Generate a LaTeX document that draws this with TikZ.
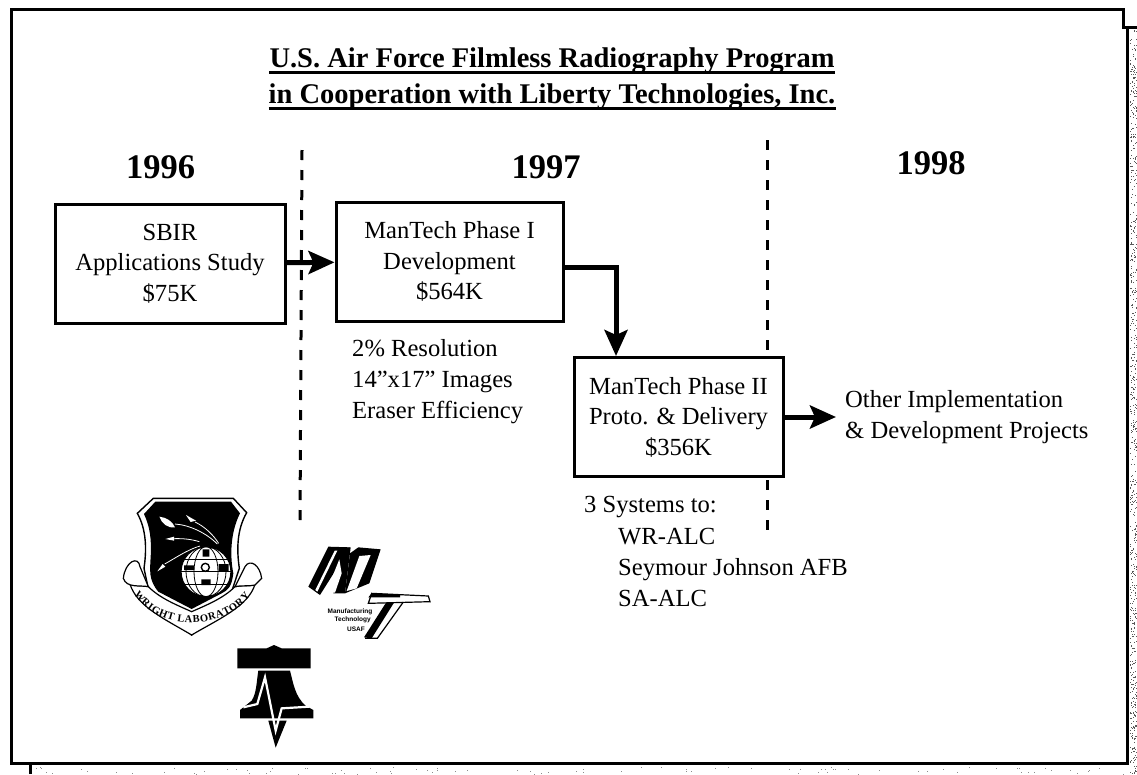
\documentclass[tikz,border=0pt]{standalone}
\usepackage{fontspec}
\setmainfont{Liberation Serif}
\newfontfamily\logofont{Liberation Sans}
\usetikzlibrary{arrows.meta,decorations.text}
\tikzset{
  phasebox/.style={draw,line width=3pt,fill=white,minimum width=#1,minimum height=119pt,align=center,font=\fontsize{24.6}{30.6}\selectfont},
  bodytext/.style={inner sep=0pt,align=left,font=\fontsize{24.6}{31}\selectfont},
  yeartext/.style={inner sep=0pt,anchor=base,font=\fontsize{34.5}{36}\selectfont\bfseries},
  titletext/.style={inner sep=0pt,anchor=base,font=\fontsize{28.5}{32}\selectfont\bfseries},
  titlerule/.style={line width=3pt},
  flowarrow/.style={line width=5pt,-{Stealth[length=26pt,width=23pt,inset=5pt]}},
  yeardash/.style={line width=3pt,dash pattern=on 10pt off 10pt},
  gridline/.style={line width=.8pt},
  trail/.style={white,line width=.8pt},
  mtlabel/.style={inner sep=0pt,font=\fontsize{6.5}{7}\selectfont\logofont\bfseries}
}
\begin{document}
\begin{tikzpicture}[x=1pt,y=-1pt]
    \useasboundingbox (0,0) rectangle (1137,774);
    % page edge
    \pgfmathsetseed{17}
    \foreach \i in {1,...,700} {
        \pgfmathsetmacro\dotx{1129.5+rnd*7}
        \pgfmathsetmacro\doty{29+rnd*745}
        \fill[black!65] (\dotx,\doty) rectangle +(1,1);
    }
    \foreach \i in {1,...,90} {
        \pgfmathsetmacro\dotx{35+rnd*1090}
        \pgfmathsetmacro\doty{767+rnd*7}
        \fill[black!45] (\dotx,\doty) rectangle +(1,1);
    }
    \draw[line width=3pt] (1137,27) -- (1123,27) -- (1123,9) -- (11,9) -- (11,763) -- (1127,763) -- (1127,27);
    \draw[line width=3pt] (30,774) -- (30,765);

    % title
    \node[titletext] (titleone) at (552,67) {U.S. Air Force Filmless Radiography Program};
    \node[titletext] (titletwo) at (552,103) {in Cooperation with Liberty Technologies, Inc.};
    \draw[titlerule] ([yshift=-5pt]titleone.base west) -- ([yshift=-5pt]titleone.base east);
    \draw[titlerule] ([yshift=-5pt]titletwo.base west) -- ([yshift=-5pt]titletwo.base east);

    % years
    \node[yeartext] (yearone) at (160.5,178) {1996};
    \node[yeartext] (yeartwo) at (546,178) {1997};
    \node[yeartext] (yearthree) at (931,174) {1998};

    % year borders
    \coordinate (dashonetop) at (302,150);
    \coordinate (dashonebot) at (300,523);
    \coordinate (dashtwotop) at (767,140);
    \coordinate (dashtwobot) at (767,532);
    \draw[yeardash] (dashonetop) -- (dashonebot);
    \draw[yeardash] (dashtwotop) -- (dashtwobot);

    % boxes
    \node[phasebox=230pt] (sbir) at (170,263.5) {SBIR\\Applications Study\\\$75K};
    \node[phasebox=227pt] (phaseone) at (449.5,261.5) {ManTech Phase I\\Development\\\$564K};
    \node[phasebox=209pt] (phasetwo) at (678.5,417) {ManTech Phase II\\Proto. \& Delivery\\\$356K};
    \node[bodytext,anchor=west,inner xsep=9pt] (other) at (836,417) {Other Implementation\\\& Development Projects};

    % arrows
    \coordinate (bend) at (616,267);
    \draw[flowarrow] (sbir) -- (phaseone);
    \draw[flowarrow] (phaseone.east |- bend) -- (bend) -- (bend |- phasetwo.north);
    \draw[flowarrow] (phasetwo.east) -- (other.west);

    % notes
    \node[bodytext,anchor=north west] (results) at (352,339) {2\% Resolution\\14''x17'' Images\\Eraser Efficiency};
    \node[bodytext,anchor=base west] (systems) at (584,512) {3 Systems to:};
    \node[bodytext,anchor=base west] (wralc) at (618,544) {WR-ALC};
    \node[bodytext,anchor=base west] (seymour) at (618,575) {Seymour Johnson AFB};
    \node[bodytext,anchor=base west] (saalc) at (618,606) {SA-ALC};

    % shield
    \begin{scope}[shift={(120,490)},scale=1/3]
        \draw[line width=1.4pt,fill=white] (100,25) -- (340,25) -- (380,68) .. controls (350,120) and (350,180) .. (358,235) -- (330,320) -- (215,435) -- (90,320) -- (72,235) .. controls (80,180) and (80,120) .. (52,70) -- cycle;
        \fill (106,35) -- (333,35) -- (360,70) .. controls (330,130) and (330,200) .. (340,250) .. controls (335,290) and (325,300) .. (305,310) -- (215,357) -- (115,305) .. controls (85,270) and (90,240) .. (92,200) .. controls (95,150) and (90,110) .. (72,72) -- cycle;
        % missiles and trails
        \fill[white] (118,80) .. controls (140,82) and (158,95) .. (165,112) .. controls (142,115) and (125,100) .. (118,80) -- cycle;
        \fill[white] (198,75) -- (228,92) -- (212,96) -- cycle;
        \fill[white] (136,147) -- (162,140) -- (162,152) -- cycle;
        \fill[white] (112,244) -- (128,222) -- (136,230) -- cycle;
        \draw[trail] (165,102) .. controls (210,105) and (260,130) .. (292,162);
        \draw[trail] (225,96) .. controls (255,110) and (280,135) .. (296,160);
        \draw[trail] (162,146) .. controls (190,145) and (215,148) .. (238,155);
        \draw[trail] (134,222) .. controls (165,205) and (200,180) .. (240,168);
        % globe
        \draw[line width=1.2pt,fill=white] (258,245) circle (75);
        \draw[gridline] (258,245) ellipse (36 and 75) (258,245) ellipse (60 and 75);
        \draw[gridline] (193,208) -- (323,208) (183,245) -- (333,245) (193,282) -- (323,282);
        \fill (248,178) rectangle (268,200) (244,268) rectangle (272,285);
        \fill (192,226) rectangle (222,240) (296,222) rectangle (326,244);
        \draw[line width=1.4pt,fill=white] (256,232) circle (12);
        % ribbon
        \draw[line width=1.2pt,fill=white] (30,282) .. controls (50,290) and (70,285) .. (85,290) .. controls (120,325) and (170,345) .. (215,365) .. controls (260,345) and (310,325) .. (345,290) .. controls (365,285) and (385,290) .. (405,283) .. controls (385,350) and (290,390) .. (215,435) .. controls (140,390) and (50,350) .. (30,282) -- cycle;
        \draw[line width=1.2pt,fill=white] (10,265) .. controls (15,215) and (55,195) .. (60,230) -- (85,290) .. controls (60,285) and (20,295) .. (10,265) -- cycle;
        \draw[line width=1.2pt,fill=white] (375,230) .. controls (390,205) and (420,225) .. (425,265) -- (405,285) .. controls (385,290) and (365,285) .. (345,290) -- cycle;
        \path[decorate,decoration={text along path,text align={fit to path},text={|\fontsize{10.5}{11}\selectfont\bfseries|WRIGHT LABORATORY}}] (42,312) .. controls (110,420) and (300,430) .. (390,318);
    \end{scope}

    % MT mark
    \begin{scope}[shift={(300,540)},scale=1/3]
        \fill (85,20) -- (150,22) -- (60,165) -- (25,140) -- cycle;
        \fill[white] (104,32) -- (112,32) -- (52,155) -- (46,150) -- cycle;
        \fill (125,25) -- (152,22) -- (135,160) -- (100,160) -- cycle;
        \fill[white] (118,58) -- (125,100) -- (105,158) -- (78,158) -- cycle;
        \fill (175,22) -- (242,28) -- (208,130) -- (135,160) -- (150,40) -- cycle;
        \fill[white] (178,48) -- (212,45) -- (170,145) -- (140,153) -- cycle;
        \draw[line width=1.2pt,fill=white] (215,160) -- (385,168) -- (390,185) -- (205,190) -- cycle;
        \fill (215,160) -- (300,164) -- (300,172) -- (205,172) -- cycle;
        \fill (258,188) -- (282,188) -- (215,295) -- (192,292) -- cycle;
        \draw[line width=1.2pt] (310,186) -- (232,295) -- (195,295);
        \node[mtlabel] (mtone) at (150,215) {Manufacturing};
        \node[mtlabel] (mttwo) at (158,240) {Technology};
        \node[mtlabel] (mtthree) at (168,267) {USAF};
    \end{scope}

    % bell
    \begin{scope}[shift={(100,480)},scale=1/3]
        \fill (412,505) -- (500,505) -- (522,495) -- (545,505) -- (632,505) -- (632,565) -- (412,565) -- cycle;
        \fill (475,572) -- (570,572) .. controls (580,610) and (585,650) .. (618,678) -- (640,690) -- (640,715) -- (420,715) -- (420,690) -- (455,662) .. controls (470,640) and (470,600) .. (475,572) -- cycle;
        \fill (505,722) -- (560,722) -- (527,803) -- cycle;
        \draw[white,line width=2.2pt,line join=miter] (430,682) -- (472,672) -- (495,592) -- (527,752) -- (545,685) -- (628,680);
    \end{scope}
\end{tikzpicture}
\end{document}
